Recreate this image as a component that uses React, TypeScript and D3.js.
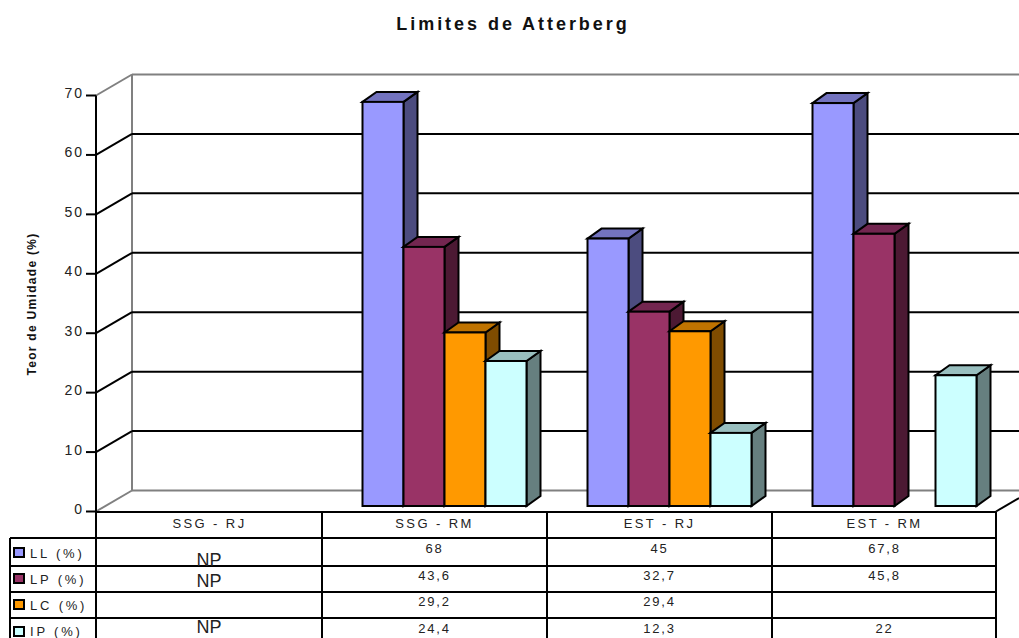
import React from "react";
import * as d3 from "d3";

const title = "Limites de Atterberg";
const yAxisTitle = "Teor de Umidade (%)";
const categories = ["SSG - RJ", "SSG - RM", "EST - RJ", "EST - RM"];
const seriesNames = ["LL (%)", "LP (%)", "LC (%)", "IP (%)"];
const LL: (number | null)[] = [null, 68, 45, 67.8];
const LP: (number | null)[] = [null, 43.6, 32.7, 45.8];
const LC: (number | null)[] = [null, 29.2, 29.4, null];
const IP: (number | null)[] = [null, 24.4, 12.3, 22];
const seriesValues = [LL, LP, LC, IP];
const npFlags = [true, true, false, true];
const yTicks = [0, 10, 20, 30, 40, 50, 60, 70];
const faceColors = ["#9999FF", "#993366", "#FF9900", "#CCFFFF"];
const topColors = ["#7373BF", "#732650", "#BF7300", "#99BFBF"];
const sideColors = ["#4C4C7F", "#4C1933", "#7F4C00", "#667F7F"];

const W = 1019, H = 638;
const DX = 36, DY = -21, BDX = 14, BDY = -10;
const SW = 2;
const FONT = "'Liberation Sans', Arial, sans-serif";
const TXT = "#222";

const y = d3.scaleLinear().domain([0, 70]).range([511.5, 95.5]);
const x = d3.scaleBand<string>().domain(categories).range([97, 997]);
const inner = d3.scaleBand<string>().domain(seriesNames).range([40.5, 204.5]);
const barBase = 506;
const fmt = (v: number) => String(v).replace(".", ",");

const rowLines = [512, 538, 566, 592, 618];
const legendY = [553, 579, 605, 630.5];
const swatchY = [553, 579, 605, 632];
const valueY = [549, 576, 602, 629];
const npY = [566, 587, 0, 633];

export default function App() {
  const y0 = y(0);
  const barH = (v: number) => y(0) - y(v);
  const columnEdges = categories.map((c) => x(c)!).concat([997]);
  return (
    <svg width={W} height={H} viewBox={`0 0 ${W} ${H}`}
      style={{ position: "absolute", left: 0, top: 0, background: "#fff" }} fontFamily={FONT}>
      <text x={513} y={30} textAnchor="middle" fontSize={18} fontWeight="bold" letterSpacing={2.95} fill="#111">{title}</text>

      {/* back wall and floor */}
      <line x1={96} y1={y0} x2={96 + DX} y2={y0 + DY} stroke="#808080" strokeWidth={SW} />
      <line x1={96} y1={y(70)} x2={96 + DX} y2={y(70) + DY} stroke="#808080" strokeWidth={SW} />
      <line x1={96 + DX} y1={y(70) + DY} x2={96 + DX} y2={y0 + DY} stroke="#808080" strokeWidth={SW} />
      <line x1={96 + DX} y1={y(70) + DY} x2={W} y2={y(70) + DY} stroke="#808080" strokeWidth={SW} />
      <line x1={96 + DX} y1={y0 + DY} x2={W} y2={y0 + DY} stroke="#808080" strokeWidth={SW} />
      <line x1={996} y1={y0} x2={W} y2={y0 + DY * (23 / DX)} stroke="#000" strokeWidth={SW} />
      {yTicks.filter((t) => t > 0 && t < 70).map((t) => (
        <g key={t}>
          <line x1={96} y1={y(t)} x2={96 + DX} y2={y(t) + DY} stroke="#000" strokeWidth={SW} />
          <line x1={96 + DX} y1={y(t) + DY} x2={W} y2={y(t) + DY} stroke="#000" strokeWidth={SW} />
        </g>
      ))}

      {/* y axis */}
      <line x1={96} y1={y(70)} x2={96} y2={H} stroke="#000" strokeWidth={SW} />
      {yTicks.map((t) => (
        <g key={t}>
          <line x1={86} y1={y(t)} x2={96} y2={y(t)} stroke="#000" strokeWidth={SW} />
          <text x={84} y={y(t) + 2.5} textAnchor="end" fontSize={14} letterSpacing={2} fill={TXT}>{t}</text>
        </g>
      ))}
      <text transform="translate(36,304) rotate(-90)" textAnchor="middle" fontSize={12} fontWeight="bold" letterSpacing={1.3} fill="#111">{yAxisTitle}</text>

      {/* bars */}
      {categories.map((c, ci) =>
        seriesNames.map((s, si) => {
          const v = seriesValues[si][ci];
          if (v == null) return null;
          const bx = x(c)! + inner(s)!;
          const w = inner.bandwidth();
          const top = barBase - barH(v);
          const pts = (a: [number, number][]) => a.map((p) => p.join(",")).join(" ");
          return (
            <g key={c + s} stroke="#000" strokeWidth={SW} strokeLinejoin="miter">
              <polygon fill={sideColors[si]} points={pts([[bx + w, top], [bx + w + BDX, top + BDY], [bx + w + BDX, barBase + BDY], [bx + w, barBase]])} />
              <polygon fill={topColors[si]} points={pts([[bx, top], [bx + BDX, top + BDY], [bx + w + BDX, top + BDY], [bx + w, top]])} />
              <rect x={bx} y={top} width={w} height={barBase - top} fill={faceColors[si]} />
            </g>
          );
        })
      )}

      {/* data table */}
      {rowLines.map((ry, i) => (
        <line key={ry} x1={i === 0 ? 96 : 10} y1={ry} x2={996} y2={ry} stroke="#000" strokeWidth={SW} />
      ))}
      <line x1={10} y1={538} x2={10} y2={H} stroke="#000" strokeWidth={SW} />
      {columnEdges.slice(1).map((cx, i) => (
        <line key={i} x1={cx - (i === 3 ? 1 : 0)} y1={512} x2={cx - (i === 3 ? 1 : 0)} y2={H} stroke="#000" strokeWidth={SW} />
      ))}
      {categories.map((c) => (
        <text key={c} x={x(c)! + x.bandwidth() / 2} y={528} textAnchor="middle" fontSize={13} letterSpacing={2.4} fill={TXT}>{c}</text>
      ))}
      {seriesNames.map((s, si) => (
        <g key={s}>
          <rect x={14} y={swatchY[si] - 5} width={10} height={9} fill={faceColors[si]} stroke="#000" strokeWidth={SW} />
          <text x={30} y={legendY[si] + 5} fontSize={13} letterSpacing={2.8} fill={TXT}>{s}</text>
          {categories.map((c, ci) => {
            const v = seriesValues[si][ci];
            return v == null ? null : (
              <text key={c} x={x(c)! + x.bandwidth() / 2} y={valueY[si] + 4} textAnchor="middle" fontSize={13} letterSpacing={1.8} fill={TXT}>{fmt(v)}</text>
            );
          })}
          {npFlags[si] && (
            <text x={209} y={npY[si]} textAnchor="middle" fontSize={18} fill={TXT}>NP</text>
          )}
        </g>
      ))}
    </svg>
  );
}
